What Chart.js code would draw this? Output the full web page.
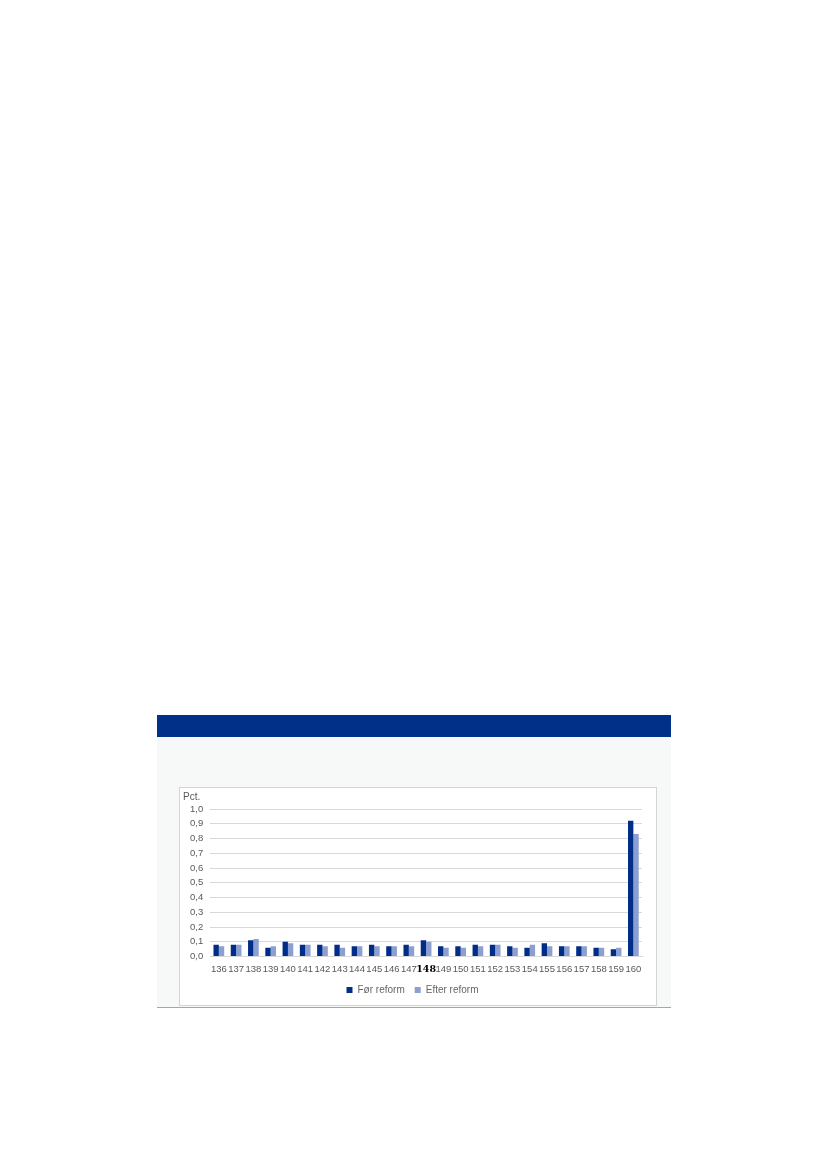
<!DOCTYPE html>
<html lang="da">
<head>
    <meta charset="UTF-8">
    <script src="https://cdn.jsdelivr.net/npm/chart.js@4.4.0/dist/chart.umd.min.js"></script>
    <title>Før og efter reform</title>
    <style>
        body { margin: 0; background: #fff; }
        #band { position: absolute; left: 157px; top: 715px; width: 514px; height: 22px; background: #003087; }
        #panel { position: absolute; left: 157px; top: 737px; width: 514px; height: 270px; background: #f7f8f8; border-bottom: 1px solid #a6a6a6; }
        #box { position: absolute; left: 179px; top: 787px; width: 476px; height: 217px; background: #fff; border: 1px solid #d4d4d4; }
        #box canvas { display: block; }
    </style>
</head>
<body>
    <div id="band"></div>
    <div id="panel"></div>
    <div id="box"><canvas id="myChart" width="476" height="217"></canvas></div>
    <script>

        var categories = ['136','137','138','139','140','141','142','143','144','145','146','147','148',
                          '149','150','151','152','153','154','155','156','157','158','159','160'];
        var forReform = [0.08,0.08,0.11,0.06,0.10,0.08,0.08,0.08,0.07,0.08,0.07,0.08,0.11,
                         0.07,0.07,0.08,0.08,0.07,0.06,0.09,0.07,0.07,0.06,0.05,0.92];
        var efterReform = [0.07,0.08,0.12,0.07,0.09,0.08,0.07,0.06,0.07,0.07,0.07,0.07,0.10,
                           0.06,0.06,0.07,0.08,0.06,0.08,0.07,0.07,0.07,0.06,0.06,0.83];
        var yTicks = [0,0.1,0.2,0.3,0.4,0.5,0.6,0.7,0.8,0.9,1.0];

        var font = 'Liberation Sans';

        var ctx = document.getElementById('myChart').getContext('2d');
        var myChart = new Chart(ctx, {
            type: 'bar',
            data: {
                labels: categories,
                datasets: [{
                    label: 'Før reform',
                    data: forReform,
                    backgroundColor: '#002d87',
                    barPercentage: 1.0,
                    categoryPercentage: 0.62
                }, {
                    label: 'Efter reform',
                    data: efterReform,
                    backgroundColor: '#8c9fd0',
                    barPercentage: 1.0,
                    categoryPercentage: 0.62
                }]
            },
            options: {
                responsive: false,
                animation: { duration: 0 },
                layout: { padding: { left: 3, right: 14, top: 0, bottom: 0 } },
                plugins: {
                    tooltip: { enabled: false },
                    title: {
                        display: true,
                        text: 'Pct.',
                        align: 'start',
                        color: '#595959',
                        font: { family: font, size: 10, weight: 'normal' },
                        padding: { top: 3, bottom: 6 }
                    },
                    legend: {
                        position: 'bottom',
                        labels: {
                            boxWidth: 6,
                            boxHeight: 6,
                            padding: 10,
                            color: '#666',
                            font: { family: font, size: 10 }
                        }
                    }
                },
                scales: {
                    x: {
                        grid: { display: false, tickLength: 7 },
                        border: { color: '#d9d9d9' },
                        ticks: {
                            autoSkip: false,
                            maxRotation: 0,
                            minRotation: 0,
                            padding: 0,
                            color: function (c) { return c.index === 12 ? '#000' : '#595959'; },
                            font: function (c) {
                                return c.index === 12
                                    ? { family: 'DejaVu Serif', size: 9.5, weight: 'bold' }
                                    : { family: font, size: 9.5 };
                            }
                        }
                    },
                    y: {
                        min: 0,
                        max: 1,
                        afterBuildTicks: function (axis) {
                            axis.ticks = yTicks.map(function (v) { return { value: v }; });
                        },
                        grid: { color: '#d9d9d9', drawTicks: false },
                        border: { display: false },
                        ticks: {
                            autoSkip: false,
                            padding: 7,
                            color: '#595959',
                            font: { family: font, size: 9.5 },
                            callback: function (v) { return v.toFixed(1).replace('.', ','); }
                        }
                    }
                }
            }
        });
    </script>
</body>
</html>
